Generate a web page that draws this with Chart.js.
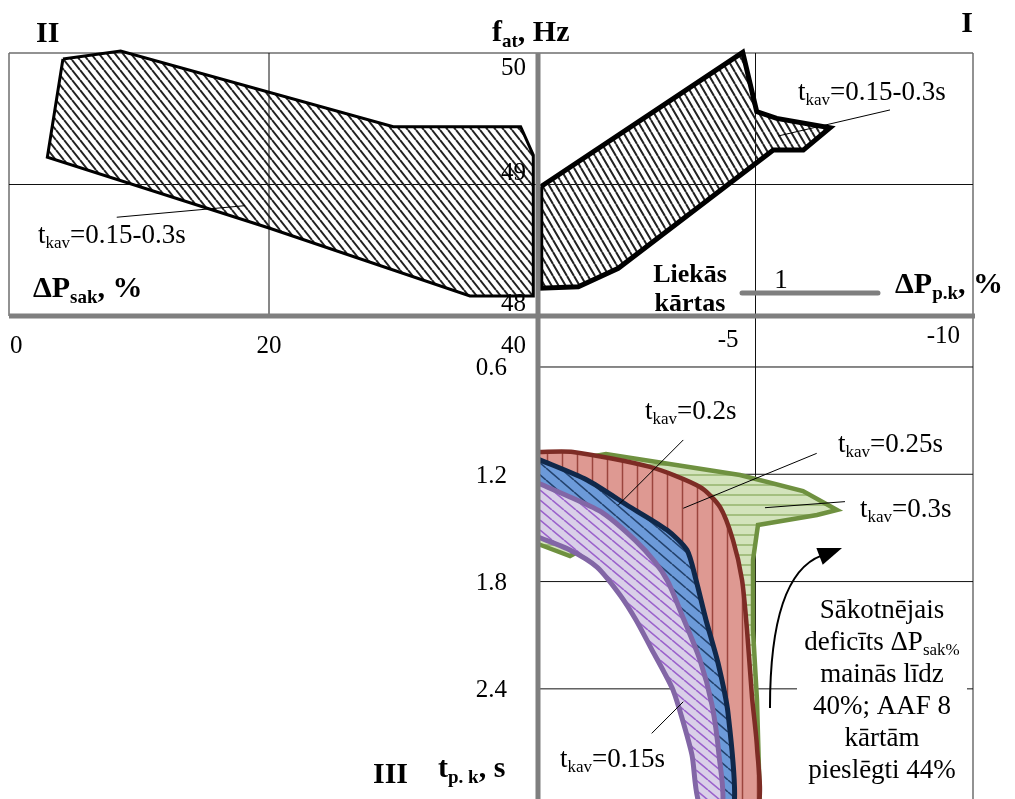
<!DOCTYPE html>
<html>
<head>
<meta charset="utf-8">
<script src="https://cdn.jsdelivr.net/npm/chart.js@4.4.1/dist/chart.umd.min.js"></script>
<style>
    html, body { margin: 0; padding: 0; background: #fff; }
    canvas { display: block; }
</style>
</head>
<body>
<canvas id="quadChart" width="1015" height="799"></canvas>
<script>
// ============================================
// Load shedding – four-quadrant diagram
// ============================================

// Quadrant II: initial deficit ΔPsak (%) -> frequency f (Hz)
const q2Psak = [4.68, 8.97, 29.24, 38.71, 39.65, 39.65, 34.94, 20.0, 3.52];
const q2Freq = [49.954, 50.015, 49.44, 49.44, 49.224, 48.152, 48.152, 48.669, 49.207];

// Quadrant I: excess load shed ΔPp.k (%) -> frequency f (Hz)
const q1Ppk = [-0.062, -4.706, -5.028, -5.487, -6.713, -6.099, -5.409, -1.846, -0.926, -0.062];
const q1Freq = [48.983, 50.005, 49.554, 49.503, 49.432, 49.262, 49.262, 48.363, 48.223, 48.211];

// Quadrant III: ΔPp.k (%) -> time t_p.k (s), one outline per t_kav
// (outlines start and end on the vertical axis; the fill closes along it)
const q3PpkT030 = [0, -1.563, -4.644, -6.092, -6.874, -6.414, -5.057, -4.943, -4.943, -5.034, -5.103, -4.0, -3.563, -2.920, -2.345, -1.425, -0.736, 0];
const q3TimeT030 = [1.154, 1.087, 1.204, 1.294, 1.400, 1.428, 1.484, 1.679, 2.071, 2.462, 3.05, 3.05, 2.406, 2.015, 1.735, 1.568, 1.657, 1.590];

const q3PpkT025 = [0, -0.805, -2.575, -3.724, -4.184, -4.483, -4.690, -4.805, -4.920, -5.034, -5.057, -4.414, -3.839, -3.149, -2.575, -1.425, 0];
const q3TimeT025 = [1.075, 1.075, 1.159, 1.271, 1.383, 1.568, 1.791, 2.071, 2.446, 2.725, 3.05, 3.05, 2.406, 1.903, 1.596, 1.372, 1.288];

const q3PpkT020 = [0, -1.126, -2.115, -2.966, -3.425, -3.632, -3.862, -4.138, -4.368, -4.506, -4.069, -3.839, -3.149, -2.575, -1.425, 0];
const q3TimeT020 = [1.115, 1.232, 1.383, 1.512, 1.624, 1.791, 2.015, 2.255, 2.535, 3.05, 3.05, 2.462, 1.959, 1.763, 1.540, 1.372];

const q3PpkT015 = [0, -0.736, -1.494, -2.230, -2.690, -2.989, -3.310, -3.724, -4.0, -4.161, -4.230, -3.724, -3.540, -3.310, -3.103, -2.897, -2.598, -2.253, -1.885, -1.356, -0.690, 0];
const q3TimeT015 = [1.249, 1.327, 1.417, 1.568, 1.691, 1.802, 1.987, 2.239, 2.490, 2.770, 3.05, 3.05, 2.770, 2.563, 2.406, 2.306, 2.172, 2.015, 1.875, 1.719, 1.618, 1.551];

// Tick labels
const psakTicks = [0, 20, 40];
const ppkTicks = [-5, -10];
const freqTicks = [48, 49, 50];
const timeTicks = [0.6, 1.2, 1.8, 2.4];

const SERIF = '"Liberation Serif", "Times New Roman", serif';

function toPoints(xs, ys, close) {
    const pts = xs.map((x, i) => ({ x, y: ys[i] }));
    if (close) pts.push({ x: xs[0], y: ys[0] });
    return pts;
}

const canvas = document.getElementById('quadChart');
const mainCtx = canvas.getContext('2d');

function hatch(bg, fg, w, h, kind, lw) {
    const tile = document.createElement('canvas');
    tile.width = w; tile.height = h;
    const g = tile.getContext('2d');
    if (bg) { g.fillStyle = bg; g.fillRect(0, 0, w, h); }
    g.strokeStyle = fg; g.lineWidth = lw;
    g.beginPath();
    if (kind === 'h') { g.moveTo(0, h / 2); g.lineTo(w, h / 2); }
    else if (kind === 'v') { g.moveTo(w / 2, 0); g.lineTo(w / 2, h); }
    else { for (let k = -1; k <= 1; k++) { g.moveTo(k * w, 0); g.lineTo(k * w + w, h); } }
    g.stroke();
    return mainCtx.createPattern(tile, 'repeat');
}

function font(size, bold) { return (bold ? 'bold ' : '') + size + 'px ' + SERIF; }

// parts: [[text, isSub], ...]
function rich(ctx, parts, x, y, align, size, bold) {
    const sub = Math.round(size * 0.64);
    let total = 0;
    parts.forEach(([t, s]) => { ctx.font = font(s ? sub : size, bold); total += ctx.measureText(t).width; });
    let cx = align === 'center' ? x - total / 2 : align === 'right' ? x - total : x;
    ctx.textAlign = 'left';
    ctx.textBaseline = 'alphabetic';
    parts.forEach(([t, s]) => {
        ctx.font = font(s ? sub : size, bold);
        ctx.fillText(t, cx, s ? y + size * 0.2 : y);
        cx += ctx.measureText(t).width;
    });
    return total;
}

function seg(ctx, x1, y1, x2, y2) {
    ctx.beginPath(); ctx.moveTo(x1, y1); ctx.lineTo(x2, y2); ctx.stroke();
}

const gridPlugin = {
    id: 'quadrantGrid',
    beforeDatasetsDraw(chart) {
        const { ctx, chartArea: a, scales: s } = chart;
        const L = v => s.xL.getPixelForValue(v), R = v => s.xR.getPixelForValue(v);
        const F = v => s.yF.getPixelForValue(v), T = v => s.yT.getPixelForValue(v);
        ctx.save();
        // outer frame
        ctx.strokeStyle = '#6e6e6e'; ctx.lineWidth = 1.5;
        seg(ctx, a.left, F(50), a.right, F(50));
        seg(ctx, a.left, F(50), a.left, F(48));
        seg(ctx, a.right, F(50), a.right, a.bottom);
        // grid
        ctx.strokeStyle = '#111'; ctx.lineWidth = 1;
        seg(ctx, L(psakTicks[1]), F(50), L(psakTicks[1]), F(48));
        seg(ctx, a.left, F(freqTicks[1]), a.right, F(freqTicks[1]));
        seg(ctx, R(ppkTicks[0]), F(50), R(ppkTicks[0]), a.bottom);
        timeTicks.forEach(v => seg(ctx, R(0), T(v), a.right, T(v)));
        ctx.restore();
    }
};

const annotationPlugin = {
    id: 'annotations',
    afterDatasetsDraw(chart) {
        const { ctx, chartArea: a, scales: s } = chart;
        const L = v => s.xL.getPixelForValue(v), R = v => s.xR.getPixelForValue(v);
        const F = v => s.yF.getPixelForValue(v), T = v => s.yT.getPixelForValue(v);
        ctx.save();
        ctx.fillStyle = '#000';

        // thick axes
        ctx.strokeStyle = '#7f7f7f'; ctx.lineWidth = 5; ctx.lineCap = 'butt';
        seg(ctx, a.left, F(48), a.right + 2, F(48));
        seg(ctx, R(0), F(50), R(0), a.bottom);

        // legend line "1"
        ctx.lineCap = 'round';
        seg(ctx, R(-4.69), F(48.175), R(-7.816), F(48.175));
        ctx.lineCap = 'butt';

        // tick labels
        ctx.font = font(25, false);
        ctx.textBaseline = 'alphabetic';
        freqTicks.forEach(v => {
            ctx.textAlign = 'right';
            ctx.fillText(String(v), R(0) - 12, F(v) + (v === 50 ? 22 : -5));
        });
        psakTicks.forEach((v, i) => {
            const y = F(48) + 37;
            if (i === 0) { ctx.textAlign = 'left'; ctx.fillText(String(v), a.left + 1, y); }
            else if (i === psakTicks.length - 1) { ctx.textAlign = 'right'; ctx.fillText(String(v), L(v) - 12, y); }
            else { ctx.textAlign = 'center'; ctx.fillText(String(v), L(v), y); }
        });
        ppkTicks.forEach((v, i) => {
            ctx.textAlign = 'right';
            ctx.fillText(String(v), R(v) - (i === 0 ? 17 : 13), F(48) + (i === 0 ? 31 : 27));
        });
        timeTicks.forEach(v => {
            ctx.textAlign = 'right';
            ctx.fillText(v.toFixed(1), R(0) - 31, T(v) + 8.5);
        });

        // quadrant numbers and axis titles
        rich(ctx, [['II']], L(2.68), F(50.084), 'left', 30, true);
        rich(ctx, [['I']], R(-9.862), F(50.16), 'center', 30, true);
        rich(ctx, [['III']], L(27.73), T(2.927), 'left', 30, true);
        rich(ctx, [['f'], ['at', true], [', Hz']], L(36.58), F(50.091), 'left', 30, true);
        rich(ctx, [['ΔP'], ['sak', true], [', %']], L(2.45), F(48.144), 'left', 30, true);
        rich(ctx, [['ΔP'], ['p.k', true], [', %']], R(-8.207), F(48.175), 'left', 30, true);
        rich(ctx, [['t'], ['p. k', true], [', s']], L(32.57), T(2.893), 'left', 30, true);
        rich(ctx, [['Liekās']], R(-3.494), F(48.259), 'center', 26, true);
        rich(ctx, [['kārtas']], R(-3.494), F(48.038), 'center', 26, true);
        rich(ctx, [['1']], R(-5.586), F(48.213), 'center', 27, false);

        // t_kav labels with leader lines
        ctx.strokeStyle = '#000'; ctx.lineWidth = 1;
        const leaders = [
            ['xL', 8.68, 'yF', 48.751, 18.22, 48.839],
            ['xR', -5.524, 'yF', 49.369, -8.092, 49.567],
            ['xR', -1.846, 'yT', 1.372, -3.340, 1.008],
            ['xR', -3.340, 'yT', 1.390, -6.407, 1.083],
            ['xR', -5.218, 'yT', 1.387, -7.057, 1.353],
            ['xR', -2.614, 'yT', 2.649, -3.340, 2.472],
        ];
        leaders.forEach(([xa, x1, ya, y1, x2, y2]) => {
            seg(ctx, s[xa].getPixelForValue(x1), s[ya].getPixelForValue(y1),
                s[xa].getPixelForValue(x2), s[ya].getPixelForValue(y2));
        });
        const tkav = txt => [['t'], ['kav', true], ['=' + txt]];
        rich(ctx, tkav('0.15-0.3s'), L(2.83), F(48.555), 'left', 27, false);
        rich(ctx, tkav('0.15-0.3s'), R(-5.977), F(49.643), 'left', 27, false);
        rich(ctx, tkav('0.2s'), R(-2.46), T(0.891), 'left', 27, false);
        rich(ctx, tkav('0.25s'), R(-6.897), T(1.075), 'left', 27, false);
        rich(ctx, tkav('0.3s'), R(-7.402), T(1.439), 'left', 27, false);
        rich(ctx, tkav('0.15s'), R(-0.506), T(2.837), 'left', 27, false);

        // explanatory note on white box
        const note = [
            [['Sākotnējais']],
            [['deficīts ΔP'], ['sak%', true]],
            [['mainās līdz']],
            [['40%; AAF 8']],
            [['kārtām']],
            [['pieslēgti 44%']],
        ];
        const cx = R(-7.908), y0 = T(2.004), lh = 32;
        ctx.fillStyle = '#fff';
        ctx.fillRect(cx - 85, y0 - 27, 170, lh * (note.length - 1) + 40);
        ctx.fillStyle = '#000';
        note.forEach((parts, i) => rich(ctx, parts, cx, y0 + i * lh, 'center', 27, false));

        // curved arrow
        const p0 = [R(-5.333), T(2.507)], pc = [R(-5.333), T(1.763)], p1 = [R(-6.989), T(1.612)];
        const dx = p1[0] - pc[0], dy = p1[1] - pc[1], d = Math.hypot(dx, dy);
        const ux = dx / d, uy = dy / d, head = 24, hw = 9;
        const bx = p1[0] - ux * head, by = p1[1] - uy * head;
        ctx.lineWidth = 2;
        ctx.beginPath();
        ctx.moveTo(p0[0], p0[1]);
        ctx.quadraticCurveTo(pc[0], pc[1], bx + ux * 2, by + uy * 2);
        ctx.stroke();
        ctx.beginPath();
        ctx.moveTo(p1[0], p1[1]);
        ctx.lineTo(bx - uy * hw, by + ux * hw);
        ctx.lineTo(bx + uy * hw, by - ux * hw);
        ctx.closePath();
        ctx.fill();

        ctx.restore();
    }
};

const polygon = (label, pts, xa, ya, border, width, fill, tension, order) => ({
    label, data: pts, xAxisID: xa, yAxisID: ya,
    showLine: true, fill: 'shape', backgroundColor: fill,
    borderColor: border, borderWidth: width, tension, order,
    borderJoinStyle: tension ? 'round' : 'miter',
    pointRadius: 0, pointHoverRadius: 0, clip: false,
});

new Chart(canvas, {
    type: 'scatter',
    data: {
        datasets: [
            polygon('t_kav=0.15s', toPoints(q3PpkT015, q3TimeT015, false), 'xR', 'yT', '#8266a6', 5,
                hatch('#d9cfe8', '#9b62cc', 12, 10, 'd', 1.6), 0.25, 1),
            polygon('t_kav=0.2s', toPoints(q3PpkT020, q3TimeT020, false), 'xR', 'yT', '#10284a', 5,
                hatch('#6c9ad9', '#24436e', 14, 12, 'd', 1.6), 0.25, 2),
            polygon('t_kav=0.25s', toPoints(q3PpkT025, q3TimeT025, false), 'xR', 'yT', '#7d2c25', 4.5,
                hatch('#de9992', '#9b453d', 15, 16, 'v', 1.5), 0.25, 3),
            polygon('t_kav=0.3s', toPoints(q3PpkT030, q3TimeT030, false), 'xR', 'yT', '#6f9140', 4.5,
                hatch('#d3e3bc', '#94b36c', 10, 10, 'h', 1.5), 0, 4),
            polygon('I', toPoints(q1Ppk, q1Freq, true), 'xR', 'yF', '#000', 5,
                hatch(null, '#222', 7, 12, 'd', 2), 0, 5),
            polygon('II', toPoints(q2Psak, q2Freq, true), 'xL', 'yF', '#000', 3,
                hatch(null, '#222', 8, 10, 'd', 2), 0, 6),
        ]
    },
    options: {
        responsive: false,
        animation: false,
        layout: { padding: { left: 9, top: 53, right: 42, bottom: 0 } },
        plugins: { legend: { display: false }, tooltip: { enabled: false } },
        scales: {
            xL: { type: 'linear', position: 'bottom', display: false, min: 0.669, max: 72.342 },
            xR: { type: 'linear', position: 'bottom', display: false, reverse: true, min: -10, max: 12.161 },
            yF: { type: 'linear', position: 'left', display: false, min: 44.327, max: 50 },
            yT: { type: 'linear', position: 'left', display: false, reverse: true, min: -1.156, max: 3.016 },
        }
    },
    plugins: [gridPlugin, annotationPlugin]
});
</script>
</body>
</html>
